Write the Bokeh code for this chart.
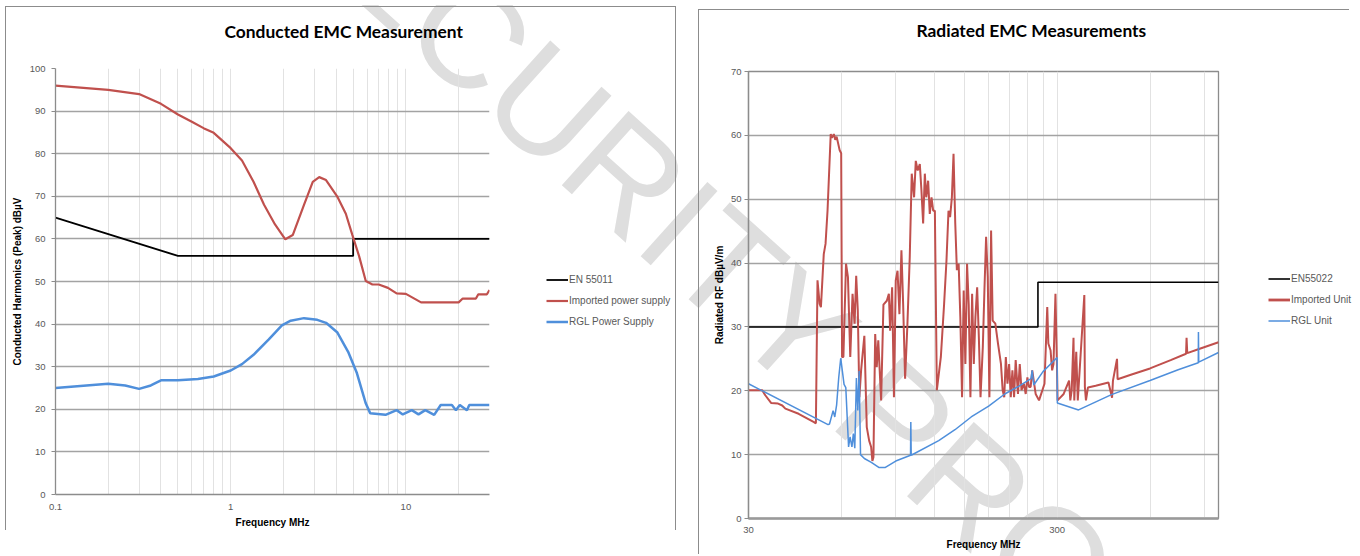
from bokeh.plotting import figure
from bokeh.models import (FixedTicker, CustomJSTickFormatter, Legend, LegendItem,
                          Range1d, Div, Title)
from bokeh.layouts import row
from bokeh.embed import file_html
from bokeh.resources import INLINE

# ---------------- data ----------------
cond_title = "Conducted EMC Measurement"
cond_xlabel = "Frequency MHz"
cond_ylabel = "Conducted Harmonics (Peak) dBµV"
cond_names = ["EN 55011", "Imported power supply", "RGL Power Supply"]
cond_xticks = [0.1, 1, 10]
cond_xminor = [0.2, 0.3, 0.4, 0.5, 0.6, 0.7, 0.8, 0.9, 2, 3, 4, 5, 6, 7, 8, 9, 20]
cond_yticks = [0, 10, 20, 30, 40, 50, 60, 70, 80, 90, 100]

cond_lim_f = [0.1, 0.5, 5.0, 5.0, 30.0]
cond_lim_v = [65, 56, 56, 60, 60]

cond_imp_f = [0.1, 0.2, 0.3, 0.4, 0.5, 0.6, 0.7, 0.8, 1.0, 1.16, 1.35, 1.55, 1.79, 2.05,
              2.26, 2.62, 2.94, 3.2, 3.5, 4.05, 4.54, 4.95, 5.41, 5.9, 6.44, 7.0, 7.9,
              8.85, 10.0, 12.2, 20.0, 21.1, 25.1, 25.9, 29.0, 30.0]
cond_imp_v = [96, 95, 94, 91.7, 89.2, 87.5, 86, 84.9, 81.3, 78.4, 73.4, 68, 63.4, 59.9,
              60.9, 68, 73.4, 74.5, 73.8, 70, 65.9, 60.9, 55.9, 50.1, 49.3, 49.3, 48.5,
              47.2, 47.1, 45.1, 45.1, 46, 46, 47, 47, 48]

cond_rgl_f = [0.1, 0.2, 0.25, 0.3, 0.35, 0.4, 0.5, 0.65, 0.8, 1.0, 1.16, 1.35, 1.65, 1.96,
              2.2, 2.62, 3.12, 3.5, 4.05, 4.68, 5.25, 5.9, 6.25, 7.65, 8.85, 9.6, 10.8,
              11.8, 12.9, 14.5, 15.8, 18.3, 19.3, 20.3, 22.3, 23.0, 30.0]
cond_rgl_v = [25, 26, 25.6, 24.8, 25.6, 26.8, 26.8, 27.1, 27.7, 29.1, 30.6, 32.8, 36.4, 39.7,
              40.8, 41.4, 41, 40.3, 38.1, 33.5, 28.5, 21.4, 19.1, 18.7, 19.8, 18.8, 19.8,
              18.8, 19.8, 18.7, 21, 21, 19.8, 21, 19.8, 21, 21]

rad_title = "Radiated EMC Measurements"
rad_xlabel = "Frequency MHz"
rad_ylabel = "Radiated RF dBµV/m"
rad_names = ["EN55022", "Imported Unit", "RGL Unit"]
rad_xticks = [30, 300]
rad_xminor = [60, 90, 120, 150, 180, 210, 240, 270, 600, 900]
rad_yticks = [0, 10, 20, 30, 40, 50, 60, 70]

rad_lim_f = [30, 260, 260, 1000]
rad_lim_v = [30, 30, 37, 37]

rad_imp_f = [30, 33.2, 34.0, 35.5, 37.4, 38.6, 39.5, 43.6, 48.9, 49.6, 50.2, 51.0, 51.5, 52.6,
             53.3, 54.1, 55.4, 55.9, 56.7, 57.3, 57.9, 59.2, 59.9, 60.3, 60.9, 62.1, 63.0,
             64.1, 65.2, 66.2, 67.0, 67.8, 68.6, 69.5, 71.2, 72.5, 73.8, 74.9, 75.6, 76.2,
             77.2, 78.1, 79.0, 80.7, 82.1, 84.2, 85.5, 86.3, 87.6, 88.8, 90.0, 91.2, 92.5,
             93.9, 95.1, 96.5, 98.2, 99.9, 101.4, 103.2, 104.5, 106, 107.7, 109, 110.4,
             111.8, 113, 114.6, 116, 117.5, 119, 120.5, 122.3, 126.0, 129.1, 131.4, 133.4,
             135, 136.8, 138.5, 140.3, 142, 143.9, 145.7, 147.6, 149.4, 151.3, 153.2, 155.1,
             157.1, 159.1, 161.1, 163.1, 165.2, 167.3, 169.4, 172.3, 174.4, 176.6, 178.8,
             181.0, 183.3, 185.5, 189.2, 193, 197.3, 199.8, 202.2, 204.6, 207.1, 209.7,
             212.3, 214.9, 217.6, 220.2, 224, 227.0, 230, 234, 237.3, 240.3, 243.2, 246.2,
             249.2, 255.6, 262.1, 268.8, 273, 278.7, 281, 285.7, 289, 292, 296.3, 299.7,
             301, 315, 328, 331, 334.5, 339, 341, 346, 350, 367.5, 369, 372, 377.5, 400,
             440, 452, 455, 469, 471, 520, 600, 700, 785, 788, 792, 860, 1000]
rad_imp_v = [20.1, 20.1, 19.3, 18.1, 18.0, 17.7, 17.2, 16.4, 15.1, 14.9, 37.3, 33.6, 33.1, 41.4,
             43.0, 48.2, 60.2, 59.6, 60.2, 59.3, 59.8, 57.7, 57.2, 25.3, 25.3, 39.9, 37.8,
             25.3, 35.2, 30.5, 38.0, 32.6, 19.0, 23.2, 28.6, 14.3, 12.2, 11.2, 9.0, 9.6,
             28.9, 23.7, 27.9, 18.5, 33.5, 34.1, 35.2, 29.4, 36.2, 19.0, 37.3, 38.8, 32.0,
             42.0, 33.6, 21.9, 30.5, 40.9, 54.0, 50.3, 56.0, 54.5, 55.5, 51.4, 46.2,
             54.0, 50.3, 52.9, 47.7, 50.3, 48.2, 48.2, 20.1, 25.3, 33.6, 40.4, 48.2,
             47.2, 50.3, 57.1, 46.2, 38.9, 39.9, 31.6, 19.0, 35.7, 24.2, 39.9, 33.6,
             19.0, 35.2, 24.2, 31.6, 36.2, 28.4, 19.0, 26.8, 35.7, 44.1, 37.8,
             19.0, 45.1, 31.0, 30.5, 27.4, 24.2, 20.1, 19.0, 25.3, 21.1, 24.2,
             19.0, 23.2, 19.0, 24.8, 19.5, 24.2, 20.1, 21.1, 19.5, 22.1, 20.6, 20.6,
             23.2, 19.5, 18.5, 20.1, 21.1, 33.1, 27.4, 26.3, 23.2, 24.2, 35.2, 23.7,
             18.5, 19.5, 21.6, 18.5, 20.1, 28.3, 18.5, 26.1, 18.5, 35.0, 20.6, 18.5, 20.5, 20.8,
             21.3, 18.9, 21.6, 25.0, 21.8, 22.5, 23.5, 24.8, 25.8, 28.3, 25.9, 26.5, 27.6]

rad_rgl_f = [30, 54.3, 54.9, 56.4, 57.1, 57.9, 58.8, 59.7, 61.2, 62.0, 63.3, 64.0, 64.9, 65.6,
             66.3, 67.1, 67.8, 68.5, 69.2, 71.2, 75, 79.3, 83.3, 90, 100.5, 100.7, 101, 124,
             140, 158, 180, 203, 225, 247, 249, 252, 270, 300, 300.5, 352, 450, 600, 740,
             860, 861, 863, 1000]
rad_rgl_v = [21.1, 14.7, 14.8, 16.9, 15.9, 17.8, 22.0, 25.1, 21.0, 20.5, 11.2, 12.8, 11.2, 13.3,
             11.0, 22.0, 16.9, 23.1, 10.0, 9.4, 8.8, 8.0, 8.0, 9.0, 9.9, 15.1, 9.9, 12.2,
             13.9, 15.9, 17.6, 19.5, 20.7, 21.9, 23.2, 20.9, 23.0, 25.2, 18.1, 17.0, 19.4, 21.6, 23.3,
             24.4, 29.2, 24.5, 26.0]

watermark = "SECURITY PROOF"

# ---------------- styles ----------------
RED = "#C0504D"
BLUE = "#4F8FDB"
HGRID = "#A3A3A3"
VGRID = "#E2E2E2"
TXT = "#595959"
AX = "#8C8C8C"
TICKFONT = "Liberation Sans"
LABFONT = "Liberation Sans"
TITLEFONT = "Lato"
BORDER = "1px solid #8c8c8c"
TOP, BOTTOM = 61, 37          # shared top / bottom borders of every figure in the row
cond_styles = [("black", 1.8), (RED, 2.2), (BLUE, 2.5)]
rad_styles = [("black", 1.6), (RED, 2.0), (BLUE, 1.5)]


def style(p, xticks, xminor, yticks, xlabel, ylabel, xstand, ystand):
    xt = FixedTicker(ticks=xticks, minor_ticks=xminor)
    p.xaxis.ticker = xt
    p.xgrid.ticker = xt
    p.xaxis.formatter = CustomJSTickFormatter(code="return tick.toString()")
    yt = FixedTicker(ticks=yticks, minor_ticks=[])
    p.yaxis.ticker = yt
    p.ygrid.ticker = yt
    p.xgrid.grid_line_color = VGRID
    p.xgrid.minor_grid_line_color = VGRID
    p.xgrid.grid_line_width = 1
    p.ygrid.grid_line_color = HGRID
    p.ygrid.grid_line_width = 1.3
    for ax in (p.xaxis, p.yaxis):
        ax.axis_line_color = AX
        ax.axis_line_width = 1.3
        ax.minor_tick_line_color = None
        ax.minor_tick_out = 0
        ax.minor_tick_in = 0
        ax.major_label_text_font = TICKFONT
        ax.major_label_text_font_size = "9.5px"
        ax.major_label_text_color = TXT
        ax.axis_label_text_font = LABFONT
        ax.axis_label_text_font_style = "bold"
        ax.axis_label_text_font_size = "10px"
        ax.axis_label_text_color = "#000000"
    p.xaxis.major_tick_line_color = None
    p.xaxis.major_tick_out = 0
    p.xaxis.major_tick_in = 0
    p.xaxis.major_label_standoff = xstand[0]
    p.xaxis.axis_label_standoff = xstand[1]
    p.yaxis.major_tick_line_color = AX
    p.yaxis.major_tick_out = 4
    p.yaxis.major_tick_in = 0
    p.yaxis.major_label_standoff = ystand[0]
    p.yaxis.axis_label_standoff = ystand[1]
    p.xaxis.axis_label = xlabel
    p.yaxis.axis_label = ylabel
    p.background_fill_alpha = 0
    p.border_fill_alpha = 0


def add_title(p, text, offset, gap_px):
    # a blank title row nearest the plot area lifts the real title upward
    p.add_layout(Title(text=" ", standoff=0, text_font=TITLEFONT,
                       text_font_size="%dpx" % gap_px), "above")
    p.add_layout(Title(text=text, align="left", offset=offset, standoff=4,
                       text_font=TITLEFONT, text_font_style="bold",
                       text_font_size="17.4px", text_color="#000000"), "above")


def legend_box(names, series, styles, left, top, w):
    lf = figure(width=w, height=TOP + 72 + BOTTOM, x_range=Range1d(0, 1),
                y_range=Range1d(0, 1), output_backend="svg", toolbar_location=None,
                min_border_left=0, min_border_right=0, min_border_top=TOP,
                min_border_bottom=BOTTOM,
                x_axis_location=None, y_axis_location=None, title_location=None)
    lf.grid.visible = False
    lf.outline_line_color = None
    lf.background_fill_alpha = 0
    lf.border_fill_alpha = 0
    # the series themselves lie outside this small frame; only their legend shows
    rs = [lf.line(xs, ys, line_color=c, line_width=lw)
          for (xs, ys), (c, lw) in zip(series, styles)]
    lf.add_layout(Legend(items=[LegendItem(label=n, renderers=[r]) for n, r in zip(names, rs)],
                         location="top_left", padding=0, margin=0, spacing=6,
                         glyph_height=15, glyph_width=22, label_height=15, label_standoff=1,
                         label_text_font=LABFONT, label_text_font_size="10px",
                         label_text_color=TXT, border_line_color=None,
                         background_fill_alpha=0))
    lf.styles = {"position": "absolute", "left": "%dpx" % left, "top": "%dpx" % (top - TOP)}
    return lf


# ---------------- left chart ----------------
p1 = figure(width=671, height=TOP + 426 + BOTTOM, x_axis_type="log", x_range=Range1d(0.1, 30),
            y_range=Range1d(0, 100), output_backend="svg", toolbar_location=None,
            title_location=None,
            min_border_left=49, min_border_right=188, min_border_top=TOP,
            min_border_bottom=BOTTOM)
p1.outline_line_color = None
style(p1, cond_xticks, cond_xminor, cond_yticks, cond_xlabel, cond_ylabel, (9, 4), (6, 4))
add_title(p1, cond_title, 169, 19)
p1.margin = (6, 0, 0, 5)
p1.styles = {"border-left": BORDER, "border-top": BORDER, "border-right": BORDER}

p1.line(cond_lim_f, cond_lim_v, line_color=cond_styles[0][0], line_width=cond_styles[0][1])
p1.line(cond_imp_f, cond_imp_v, line_color=cond_styles[1][0], line_width=cond_styles[1][1])
p1.line(cond_rgl_f, cond_rgl_v, line_color=cond_styles[2][0], line_width=cond_styles[2][1])

# ---------------- right chart ----------------
p2 = figure(width=651, height=TOP + 447 + BOTTOM, x_axis_type="log", x_range=Range1d(30, 1000),
            y_range=Range1d(0, 70), output_backend="svg", toolbar_location=None,
            title_location=None,
            min_border_left=49, min_border_right=132, min_border_top=TOP,
            min_border_bottom=BOTTOM)
p2.outline_line_color = AX
p2.outline_line_width = 1.3
style(p2, rad_xticks, rad_xminor, rad_yticks, rad_xlabel, rad_ylabel, (8, 3), (3, 3))
p2.xaxis.axis_line_width = 2.5
p2.xaxis.axis_line_color = "#9A9A9A"
add_title(p2, rad_title, 168, 22)
p2.margin = (9, 0, 0, 22)
p2.styles = {"border-left": BORDER, "border-top": BORDER}

p2.line(rad_lim_f, rad_lim_v, line_color=rad_styles[0][0], line_width=rad_styles[0][1])
p2.line(rad_imp_f, rad_imp_v, line_color=rad_styles[1][0], line_width=rad_styles[1][1])
p2.line(rad_rgl_f, rad_rgl_v, line_color=rad_styles[2][0], line_width=rad_styles[2][1])

# ---------------- legends (placed beside each plot area) ----------------
leg1 = legend_box(cond_names,
                  [(cond_lim_f, cond_lim_v), (cond_imp_f, cond_imp_v), (cond_rgl_f, cond_rgl_v)],
                  [cond_styles[0], cond_styles[1], cond_styles[2]], 546, 272, 128)
leg2 = legend_box(rad_names,
                  [(rad_lim_f, rad_lim_v), (rad_imp_f, rad_imp_v), (rad_rgl_f, rad_rgl_v)],
                  [rad_styles[0], (RED, 2.8), rad_styles[2]], 1268, 271, 84)

# ---------------- watermark (behind the transparent charts) ----------------
wm_html = ('<div style="position:absolute;left:128px;top:182px;width:1200px;height:170px;'
           'line-height:170px;text-align:center;white-space:nowrap;transform:rotate(42deg);'
           "font-family:'Liberation Sans';font-size:145px;color:#DEDEDE;\">"
           + watermark + '</div>')
wm = Div(text=wm_html, width=1352, height=556,
         styles={"position": "absolute", "left": "0px", "top": "0px", "z-index": "-1",
                 "overflow": "hidden", "pointer-events": "none"})

layout = row(p1, p2, leg1, leg2, wm)
open("out.html", "w").write(file_html(layout, INLINE))
